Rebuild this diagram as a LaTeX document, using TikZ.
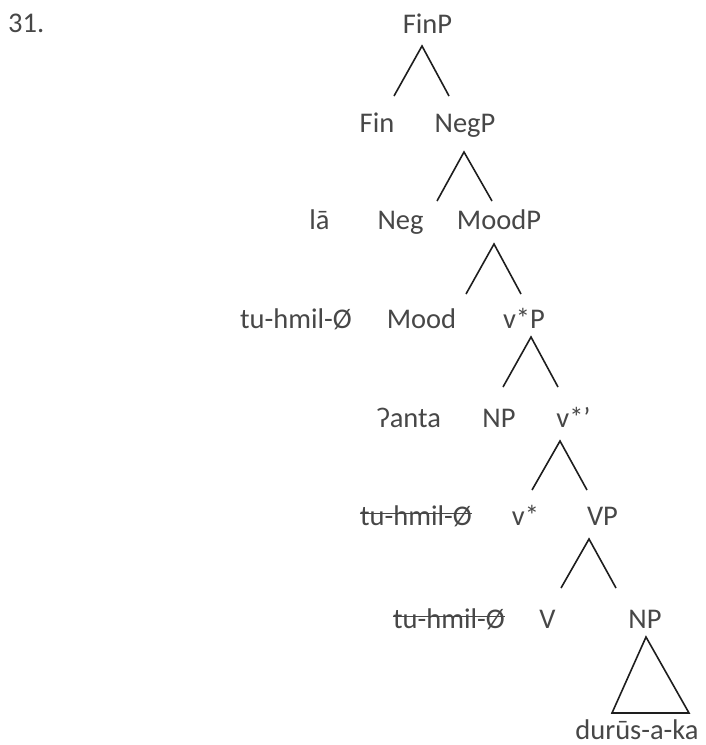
\documentclass[tikz,border=0pt]{standalone}
\usepackage{fontspec}
\setmainfont{Carlito}
\definecolor{txtgray}{HTML}{474747}
\definecolor{linecol}{HTML}{1E1E1E}
\begin{document}
\begin{tikzpicture}[x=1pt,y=-1pt,
  font=\fontsize{28.5}{32}\selectfont,
  lbl/.style={anchor=base, inner sep=0pt, text=txtgray},
  branch/.style={draw=linecol, line width=1.6pt, line join=miter},
  strikeline/.style={draw=txtgray, line width=1.1pt}]
\useasboundingbox (0,0) rectangle (705,745);
% label number
\node[lbl, anchor=base west] (num) at (8,32) {31.};
% row 1
\node[lbl] (finp) at (427.5,33) {FinP};
% row 2
\node[lbl] (fin) at (377,132) {Fin};
\node[lbl] (negp) at (465,132) {NegP};
% row 3
\node[lbl] (la) at (319.5,229) {lā};
\node[lbl] (neg) at (400.5,229) {Neg};
\node[lbl] (moodp) at (499,229) {MoodP};
% row 4
\node[lbl] (tuh) at (296,328) {tu-hmil-Ø};
\node[lbl] (mood) at (421.5,328) {Mood};
\node[lbl] (vsp) at (524,328) {v*P};
% row 5
\node[lbl] (anta) at (409,427) {ʔanta};
\node[lbl] (np1) at (499,427) {NP};
\node[lbl] (vsbar) at (573.5,427) {v*’};
% row 6
\node[lbl] (tuhA) at (416,525) {tu-hmil-Ø};
\node[lbl] (vs) at (525.5,525) {v*};
\node[lbl] (vp) at (602.5,525) {VP};
% row 7
\node[lbl] (tuhB) at (449,628) {tu-hmil-Ø};
\node[lbl] (v) at (547.5,628) {V};
\node[lbl] (np2) at (645,628) {NP};
% row 8
\node[lbl] (dur) at (637,739) {durūs-a-ka};

% strike-through lines
\draw[strikeline] ([yshift=11.5pt]tuhA.base west) -- ([yshift=11.5pt]tuhA.base east);
\draw[strikeline] ([yshift=11.5pt]tuhB.base west) -- ([yshift=11.5pt]tuhB.base east);

% branch coordinates
\coordinate (a1) at (422,46);  \coordinate (l1) at (394,96);  \coordinate (r1) at (449,96);
\coordinate (a2) at (464,152); \coordinate (l2) at (437,201); \coordinate (r2) at (492,201);
\coordinate (a3) at (494,244); \coordinate (l3) at (466,294); \coordinate (r3) at (521,294);
\coordinate (a4) at (531,337); \coordinate (l4) at (503,387); \coordinate (r4) at (558,387);
\coordinate (a5) at (560,441); \coordinate (l5) at (532,490); \coordinate (r5) at (587,490);
\coordinate (a6) at (589,539); \coordinate (l6) at (561,588); \coordinate (r6) at (616,588);
\coordinate (t0) at (646,637); \coordinate (tl) at (612,713); \coordinate (tr) at (689,713);

\draw[branch] (l1) -- (a1) -- (r1);
\draw[branch] (l2) -- (a2) -- (r2);
\draw[branch] (l3) -- (a3) -- (r3);
\draw[branch] (l4) -- (a4) -- (r4);
\draw[branch] (l5) -- (a5) -- (r5);
\draw[branch] (l6) -- (a6) -- (r6);
\draw[branch] (t0) -- (tl) -- (tr) -- cycle;
\end{tikzpicture}
\end{document}
